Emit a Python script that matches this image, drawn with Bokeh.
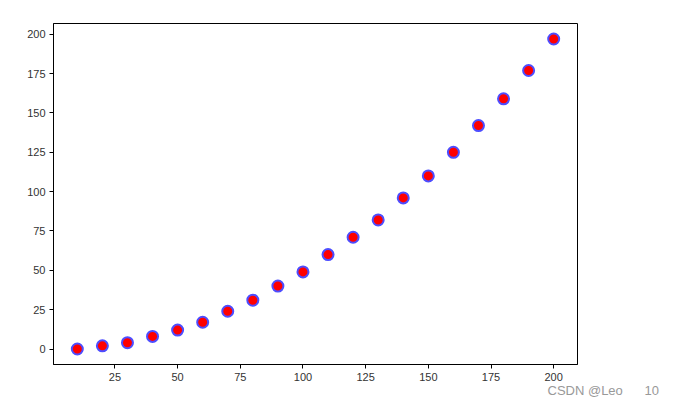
from bokeh.plotting import figure
from bokeh.models import Range1d, FixedTicker, Title
from bokeh.embed import file_html
from bokeh.resources import INLINE

x_vals = [10, 20, 30, 40, 50, 60, 70, 80, 90, 100, 110, 120, 130, 140, 150, 160, 170, 180, 190, 200]
y_vals = [0, 2, 4, 8, 12, 17, 24, 31, 40, 49, 60, 71, 82, 96, 110, 125, 142, 159, 177, 197]
x_ticks = [0, 25, 50, 75, 100, 125, 150, 175, 200]
y_ticks = [0, 25, 50, 75, 100, 125, 150, 175, 200]
watermark = "CSDN @Leo\u00a0\u00a0\u00a0\u00a0\u00a0\u00a010"

FONT = "Liberation Sans"

p = figure(width=678, height=405, output_backend="svg", toolbar_location=None,
           x_range=Range1d(0.5, 209.5), y_range=Range1d(-9.85, 206.85),
           min_border_left=53, min_border_top=23, min_border_right=101, min_border_bottom=41)

p.grid.visible = False
p.outline_line_color = "black"
p.outline_line_width = 1
p.background_fill_color = "white"
p.border_fill_color = "white"

for ax in (p.xaxis[0], p.yaxis[0]):
    ax.axis_line_color = "black"
    ax.major_tick_in = 0
    ax.major_tick_out = 4
    ax.minor_tick_line_color = None
    ax.major_label_text_font = FONT
    ax.major_label_text_font_size = "11px"
    ax.major_label_text_color = "#333333"
    ax.major_label_standoff = 4

p.xaxis[0].ticker = FixedTicker(ticks=x_ticks)
p.yaxis[0].ticker = FixedTicker(ticks=y_ticks)

p.scatter(x_vals, y_vals, size=11, fill_color="#ff0000", line_color="#4d4dff", line_width=2)

wm = Title(text=watermark, align="left", offset=494, standoff=-5,
           text_font=FONT, text_font_size="13px", text_font_style="normal",
           text_color="#999999")
p.add_layout(wm, "below")

open("out.html", "w").write(file_html(p, INLINE))
